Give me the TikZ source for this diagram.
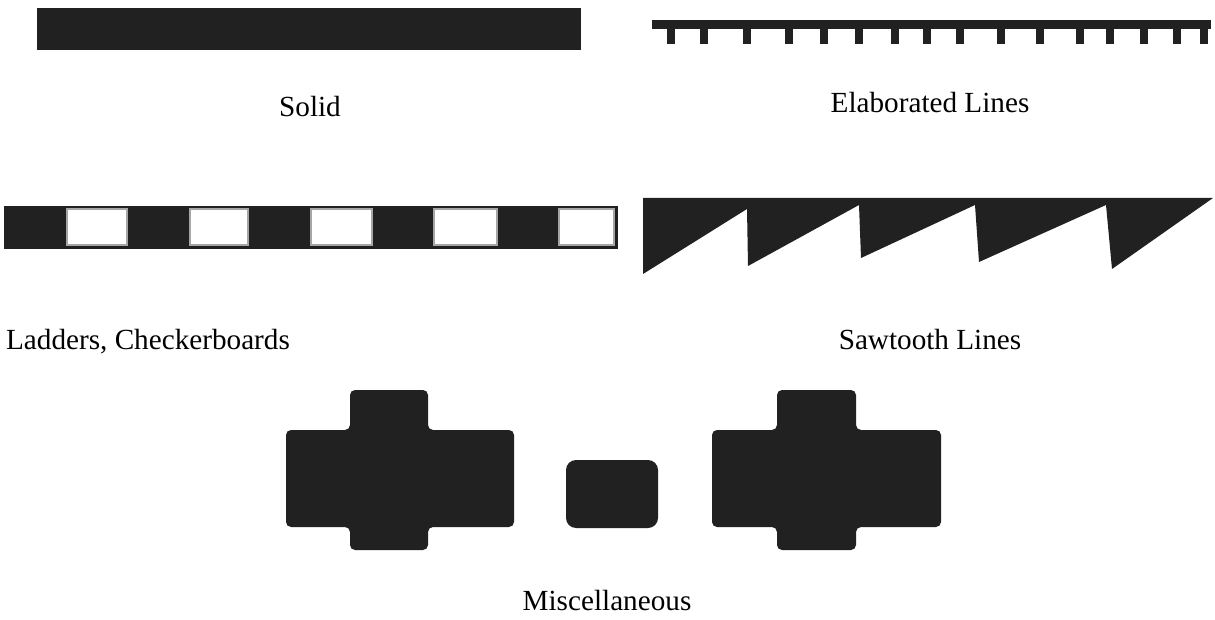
\documentclass[tikz,border=0pt]{standalone}
\usepackage{fontspec}
\setmainfont{Liberation Serif}
\definecolor{ink}{RGB}{34,33,34}
\tikzset{
  shapefill/.style={fill=ink},
  label/.style={inner sep=0pt, anchor=base, font=\fontsize{14.6}{17}\selectfont, text=black},
  hole/.style={fill=white, draw=gray!70, line width=0.6pt},
  blob/.style={fill=ink, rounded corners=2.5pt}
}
\begin{document}
\begin{tikzpicture}[x=0.5pt,y=-0.5pt]
\useasboundingbox (0,0) rectangle (1215,620);
% Solid
\fill[shapefill] (37,8) rectangle (581,50);
\node[label] (solid) at (310,117) {Solid};
% Elaborated lines
\fill[shapefill] (652,20.5) rectangle (1211,29.5);
\foreach \t in {667,700,743,785,820,855,891,923,956,997,1036,1076,1106,1140,1173,1200}
  \fill[shapefill] (\t-0.3,28) rectangle (\t+8.2,44.5);
\node[label] (elab) at (930,113) {Elaborated Lines};
% Ladders
\fill[shapefill] (4,206) rectangle (618,249);
\foreach \a/\b in {67/127,190/248,311/372,434/497,559/614}
  \filldraw[hole] (\a,209) rectangle (\b,245);
\node[label] (ladder) at (148,350) {Ladders, Checkerboards};
% Sawtooth
\fill[shapefill] (643,198) -- (643,274) -- (747,209) -- (748,266) -- (859,205) -- (861,258)
  -- (975,205) -- (979,262) -- (1106,205) -- (1112,269) -- (1213,198) -- cycle;
\node[label] (saw) at (930,350) {Sawtooth Lines};
% Miscellaneous
\fill[blob] (350,390) -- (428,390) -- (428,430) -- (514,430) -- (514,527) -- (428,527) -- (428,550)
  -- (350,550) -- (350,527) -- (286,527) -- (286,430) -- (350,430) -- cycle;
\fill[blob, rounded corners=5pt] (566,460) rectangle (658,528);
\fill[blob] (777,390) -- (856,390) -- (856,430) -- (941,430) -- (941,527) -- (856,527) -- (856,550)
  -- (777,550) -- (777,527) -- (712,527) -- (712,430) -- (777,430) -- cycle;
\node[label] (misc) at (607,610) {Miscellaneous};
\end{tikzpicture}
\end{document}
